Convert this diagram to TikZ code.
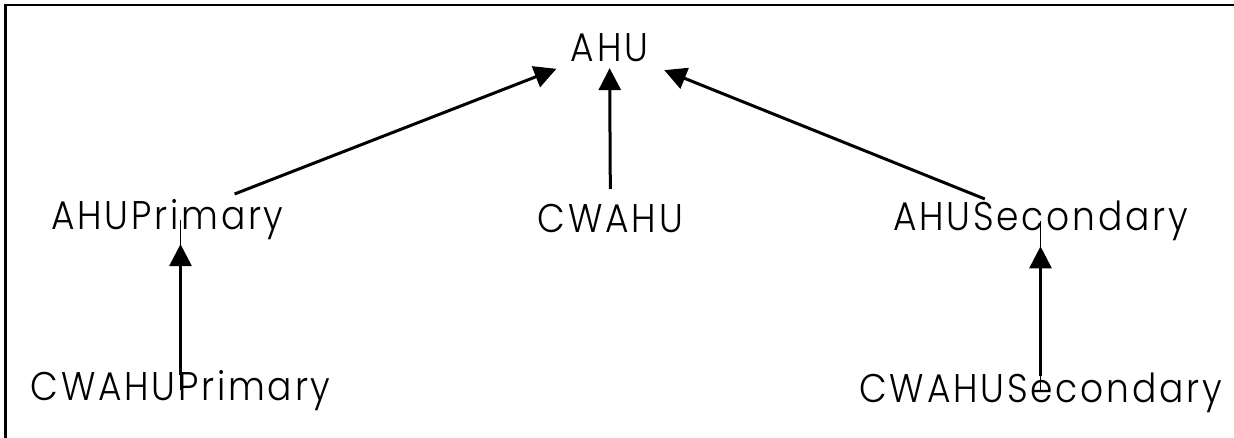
\documentclass[tikz,border=0pt]{standalone}
\usepackage{fontspec}
\setmainfont{Poppins}[UprightFont=* Light, LetterSpace=7, FakeStretch=0.9]
\usetikzlibrary{arrows.meta}

\tikzset{
  lbl/.style={inner sep=0pt, anchor=base, font=\fontsize{40}{46}\selectfont},
  dep/.style={line width=3pt, -{Triangle[length=22pt,width=22pt]}},
  guide/.style={line width=0.6pt}
}

\begin{document}
\begin{tikzpicture}[x=1pt,y=-1pt]
            \useasboundingbox (0,0) rectangle (1234,438);
            % frame, only top and left edges show
            \draw[line width=2.5pt] (5.5,438) -- (5.5,5) -- (1234,5);
            % labels sit on their baselines
            \node[lbl] (ahu) at (609.5,62) {AHU};
            \node[lbl] (cwahu) at (610.5,233) {CWAHU};
            \node[lbl] (ahuprim) at (167.5,230) {AHUPrimary};
            \node[lbl] (ahusec) at (1040.5,231) {AHUSecondary};
            \node[lbl] (cwprim) at (180.5,400) {CWAHUPrimary};
            \node[lbl] (cwsec) at (1040.5,402) {CWAHUSecondary};
            % top level
            \draw[dep, shorten <=72pt, shorten >=57pt] (ahuprim.center) -- (ahu.center);
            \draw[dep, shorten <=30pt, shorten >=20pt] (cwahu.center) -- (ahu.center);
            \draw[dep, shorten <=60pt, shorten >=59pt] (ahusec.center) -- (ahu.center);
            % second level
            \draw[guide] (cwprim.center) -- (cwprim.center |- ahuprim.center);
            \draw[dep, shorten <=15pt, shorten >=24pt] (cwprim.center) -- (cwprim.center |- ahuprim.center);
            \draw[guide] (cwsec.center) -- (cwsec.center |- ahusec.center);
            \draw[dep, shorten <=16pt, shorten >=25pt] (cwsec.center) -- (cwsec.center |- ahusec.center);
            \end{tikzpicture}
\end{document}
